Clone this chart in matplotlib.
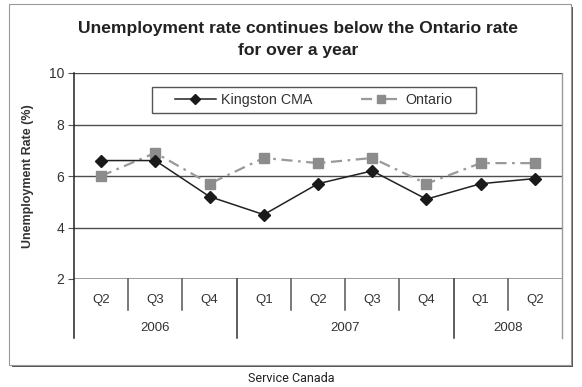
import matplotlib
matplotlib.use('Agg')
import matplotlib.pyplot as plt
from matplotlib.patches import Rectangle
from matplotlib.lines import Line2D
import matplotlib.transforms as mtransforms

plt.rcParams['font.family'] = ['Liberation Sans', 'DejaVu Sans']

quarters = ['Q2', 'Q3', 'Q4', 'Q1', 'Q2', 'Q3', 'Q4', 'Q1', 'Q2']
years = ['2006', '2007', '2008']
year_counts = [3, 4, 2]
kingston = [6.6, 6.6, 5.2, 4.5, 5.7, 6.2, 5.1, 5.7, 5.9]
ontario = [6.0, 6.9, 5.7, 6.7, 6.5, 6.7, 5.7, 6.5, 6.5]

W, H = 582, 387
fig = plt.figure(figsize=(W / 100, H / 100), dpi=100)
fig.patch.set_facecolor('white')

def fx(px):
    return px / W

def fy(py):
    return 1 - py / H

# outer frame with shadow
fig.patches.append(Rectangle((fx(12), fy(367)), fx(561), (365 - 6) / H + 0.003,
                             transform=fig.transFigure, facecolor='#555555',
                             edgecolor='none', zorder=0))
fig.patches.append(Rectangle((fx(9), fy(365)), fx(562), (365 - 4) / H,
                             transform=fig.transFigure, facecolor='white',
                             edgecolor='#999999', lw=0.8, zorder=1))

ax = fig.add_axes([fx(74), fy(279), fx(562 - 74), (279 - 73) / H])
ax.set_zorder(2)
ax.patch.set_alpha(0)

x = list(range(len(quarters)))
ax.plot(x, ontario, color='#999999', lw=1.6, linestyle=(0, (5, 2.5, 1.2, 2.5)),
        marker='s', markersize=7, markerfacecolor='#8c8c8c',
        markeredgecolor='#8c8c8c', label='Ontario', zorder=3)
ax.plot(x, kingston, color='#222222', lw=1.1, marker='D', markersize=6,
        markerfacecolor='#1a1a1a', markeredgecolor='#1a1a1a',
        label='Kingston CMA', zorder=4)

ax.set_xlim(-0.5, len(quarters) - 0.5)
ax.set_ylim(2, 10)
ax.set_yticks([2, 4, 6, 8, 10])
for v in [4, 6, 8, 10]:
    ax.axhline(v, color='#4d4d4d', lw=1.0, zorder=1)
ax.axhline(2, color='#8a8a8a', lw=1.2, zorder=1)

for s in ['top', 'bottom', 'right', 'left']:
    ax.spines[s].set_visible(False)

ax.tick_params(axis='y', length=4, width=0.8, color='#555555', labelsize=10,
               labelcolor='#333333', pad=3)
ax.set_xticks([])

ax.set_ylabel('Unemployment Rate (%)', fontsize=9, fontweight='bold',
              color='#333333', labelpad=11)

trans = mtransforms.blended_transform_factory(ax.transData, ax.transAxes)

# left axis line and right border
ax.add_line(Line2D([-0.5, -0.5], [1, -0.286], transform=trans, color='#222222',
                   lw=1.1, clip_on=False))
ax.add_line(Line2D([len(quarters) - 0.5] * 2, [1, -0.286], transform=trans,
                   color='#999999', lw=1.0, clip_on=False))

# quarter separators and year separators
bounds = []
pos = 0
for c in year_counts[:-1]:
    pos += c
    bounds.append(pos - 0.5)
for i in range(1, len(quarters)):
    b = i - 0.5
    if b in bounds:
        ax.add_line(Line2D([b, b], [0, -0.286], transform=trans,
                           color='#333333', lw=1.1, clip_on=False))
    else:
        ax.add_line(Line2D([b, b], [0, -0.150], transform=trans,
                           color='#555555', lw=1.1, clip_on=False))

for i, q in enumerate(quarters):
    ax.text(i, -0.102, q, transform=trans, ha='center', va='center',
            fontsize=9.5, color='#333333')

start = 0
for yr, c in zip(years, year_counts):
    ax.text(start + (c - 1) / 2, -0.238, yr, transform=trans, ha='center',
            va='center', fontsize=9.5, color='#333333')
    start += c

# legend box drawn by hand, legend entries centred in it
box = (0.160, 0.806, 0.664, 0.126)
ax.add_patch(Rectangle(box[:2], box[2], box[3], transform=ax.transAxes,
                       facecolor='white', edgecolor='#555555', lw=1.0,
                       clip_on=False, zorder=5))
handles, labels = ax.get_legend_handles_labels()
leg = ax.legend(handles[::-1], labels[::-1], loc='center', ncol=2,
                bbox_to_anchor=(box[0] + box[2] / 2, box[1] + box[3] / 2),
                frameon=False, fontsize=10.3, handlelength=2.8,
                borderaxespad=0, handletextpad=0.35, columnspacing=3.4,
                borderpad=0, markerscale=0.85)
leg.set_zorder(6)
for t in leg.get_texts():
    t.set_color('#333333')

fig.text(fx(298), fy(29), 'Unemployment rate continues below the Ontario rate',
         ha='center', va='center', fontsize=12.6, fontweight='bold',
         color='#222222', zorder=5)
fig.text(fx(298), fy(50), 'for over a year', ha='center', va='center',
         fontsize=12.6, fontweight='bold', color='#222222', zorder=5)

fig.text(fx(291), fy(378), 'Service Canada', ha='center', va='center',
         fontsize=9, color='#222222', fontstretch='condensed',
         family=['Liberation Sans Narrow', 'Roboto', 'DejaVu Sans'])

fig.savefig('out.png', dpi=100, facecolor='white')
